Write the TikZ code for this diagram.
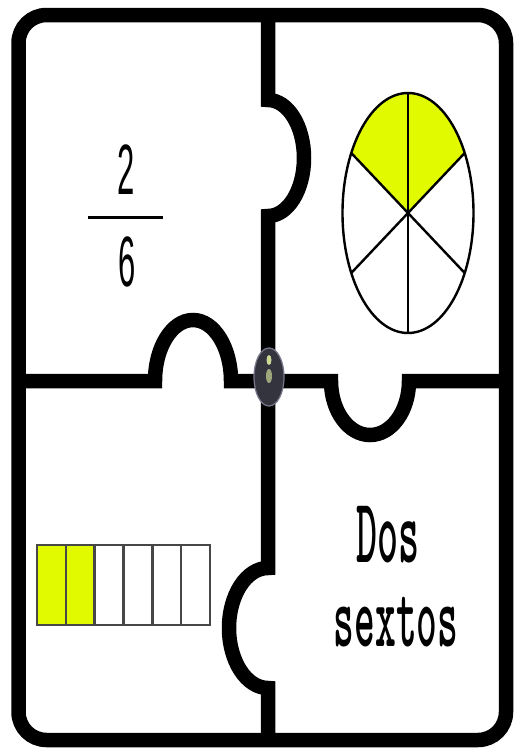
\documentclass[tikz,border=0pt]{standalone}
\usepackage{fontspec}
\usepackage{graphicx}
\setmainfont{Liberation Sans}
\newfontfamily\typefont{lmmonolt10-bold}[Extension=.otf]
\usetikzlibrary{calc}
\definecolor{pieyellow}{RGB}{226,250,0}
\definecolor{logodark}{RGB}{52,52,62}
\definecolor{logorim}{RGB}{120,120,140}
\definecolor{logofig}{RGB}{205,215,150}
\begin{document}
\begin{tikzpicture}[x=1pt,y=-1pt,
  frame/.style={line width=14.5pt},
  pieline/.style={line width=2.4pt},
  cell/.style={line width=2.4pt, draw=black!72},
  digit/.style={inner sep=0pt},
  word/.style={inner sep=0pt, anchor=base},
]
\fill[white] (0,0) rectangle (529,753);
\useasboundingbox (0,0) rectangle (529,753);
% outer frame
\draw[frame, rounded corners=28pt] (18.5,15) rectangle (506,740);
% vertical divider with two knobs
\draw[frame] (268,15) -- (268,100)
  arc[start angle=-90, end angle=90, x radius=36, y radius=58]
  -- (268,568)
  arc[start angle=-90, end angle=-270, x radius=39, y radius=60]
  -- (268,740);
% horizontal divider with two knobs
\draw[frame] (18.5,381) -- (155,381)
  arc[start angle=180, end angle=360, x radius=38, y radius=61]
  -- (331,381)
  arc[start angle=180, end angle=0, x radius=39, y radius=54]
  -- (506,381);
% centre emblem
\draw[logorim, fill=logodark, line width=1.2pt] (269,377) ellipse [x radius=15, y radius=29];
\fill[logofig] (269,360) ellipse [x radius=2.5, y radius=5];
\fill[logofig!70!logodark] (269,376) ellipse [x radius=3, y radius=7];
% fraction 2/6
\node[digit] (two) at (126,170) {\scalebox{1}[2.3]{\fontsize{31}{31}\selectfont 2}};
\node[digit] (six) at (127,262) {\scalebox{1}[2.3]{\fontsize{31}{31}\selectfont 6}};
\coordinate (barL) at (88,217);
\coordinate (barR) at (163,217);
\draw[line width=3pt] (barL) -- (barR);
% pie
\coordinate (pc) at (408,213);
\fill[pieyellow] (pc) -- ++(210:65.5 and 120)
  arc[start angle=210, end angle=330, x radius=65.5, y radius=120] -- cycle;
\draw[pieline] (pc) ellipse [x radius=65.5, y radius=120];
\foreach \a in {30,90,150}
  \draw[pieline] ($(pc)+(\a:65.5 and 120)$) -- ($(pc)+(\a+180:65.5 and 120)$);
% bar of sixths
\fill[pieyellow] (37,545) rectangle (94.7,625);
\foreach \i in {0,...,5}
  \draw[cell] ({37+\i*28.83},545) rectangle ++(28.83,80);
% words
\node[word] (dos) at (388,562) {\scalebox{1}[2.3]{\typefont\fontsize{40}{40}\selectfont Dos}};
\node[word] (sextos) at (396,646) {\scalebox{1}[2.25]{\typefont\fontsize{39.5}{39.5}\selectfont sextos}};
\end{tikzpicture}
\end{document}
